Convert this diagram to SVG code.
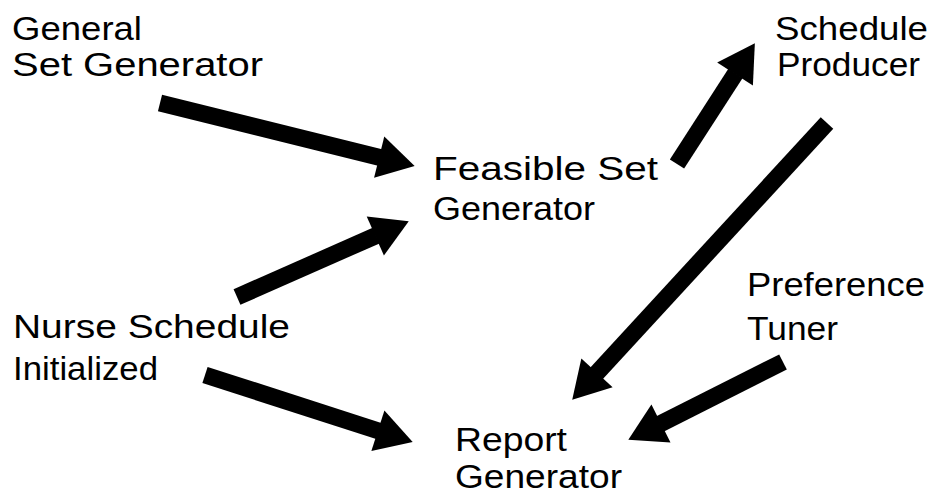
<svg xmlns="http://www.w3.org/2000/svg" width="932" height="497" viewBox="0 0 932 497">
<defs>
<style>
.lbl{font-family:"Liberation Sans","DejaVu Sans",Arial,sans-serif;font-size:34px;fill:#000}
.arr{stroke:#000;stroke-width:17;stroke-linecap:butt;fill:none;marker-end:url(#head)}
</style>
<marker id="head" markerUnits="strokeWidth" viewBox="0 -1.3 2.3 2.6" refX="0.05" refY="0" markerWidth="2.3" markerHeight="2.6" orient="auto" overflow="visible">
<path d="M0,-1.25 L2.15,0 L0,1.25 Z" fill="#000"/>
</marker>
</defs>
<rect width="932" height="497" fill="#fff"/>
<g id="connectors">
<line class="arr" x1="160" y1="103" x2="380" y2="157.4"/>
<line class="arr" x1="677" y1="164" x2="735.5" y2="73.3"/>
<line class="arr" x1="827" y1="123" x2="596.4" y2="373.5"/>
<line class="arr" x1="783" y1="362" x2="660.2" y2="423.8"/>
<line class="arr" x1="237" y1="297" x2="376.1" y2="235.6"/>
<line class="arr" x1="205" y1="375" x2="378.7" y2="431"/>
</g>
<g id="general-set-generator">
<text class="lbl" x="12" y="40" textLength="130" lengthAdjust="spacingAndGlyphs">General</text>
<text class="lbl" x="12" y="76" textLength="251" lengthAdjust="spacingAndGlyphs">Set Generator</text>
</g>
<g id="schedule-producer">
<text class="lbl" x="775" y="40" textLength="153" lengthAdjust="spacingAndGlyphs">Schedule</text>
<text class="lbl" x="777" y="76" textLength="143" lengthAdjust="spacingAndGlyphs">Producer</text>
</g>
<g id="feasible-set-generator">
<text class="lbl" x="433" y="180" textLength="225" lengthAdjust="spacingAndGlyphs">Feasible Set</text>
<text class="lbl" x="433" y="220" textLength="162" lengthAdjust="spacingAndGlyphs">Generator</text>
</g>
<g id="nurse-schedule-initialized">
<text class="lbl" x="13" y="338" textLength="277" lengthAdjust="spacingAndGlyphs">Nurse Schedule</text>
<text class="lbl" x="13" y="380" textLength="145" lengthAdjust="spacingAndGlyphs">Initialized</text>
</g>
<g id="preference-tuner">
<text class="lbl" x="747" y="296" textLength="178" lengthAdjust="spacingAndGlyphs">Preference</text>
<text class="lbl" x="747" y="340" textLength="91" lengthAdjust="spacingAndGlyphs">Tuner</text>
</g>
<g id="report-generator">
<text class="lbl" x="455" y="451" textLength="112" lengthAdjust="spacingAndGlyphs">Report</text>
<text class="lbl" x="455" y="488" textLength="167" lengthAdjust="spacingAndGlyphs">Generator</text>
</g>
</svg>
